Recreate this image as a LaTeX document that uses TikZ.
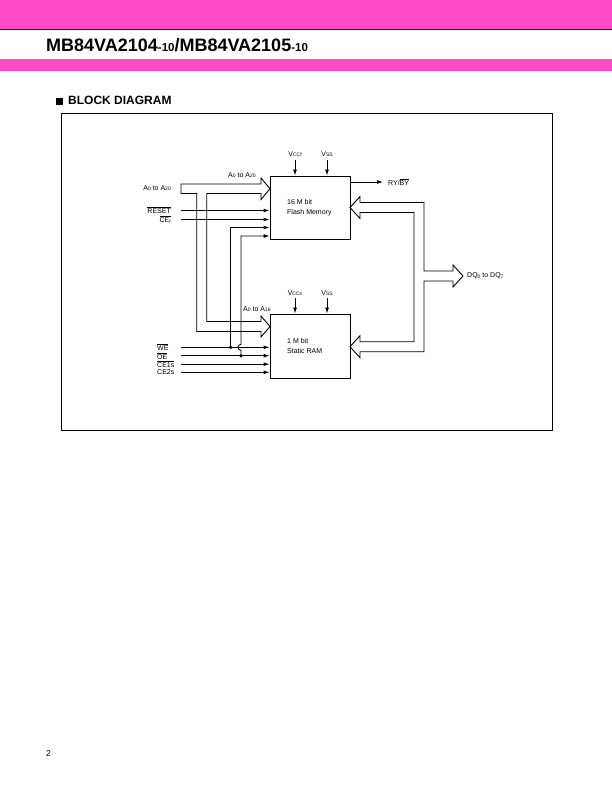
\documentclass[tikz,border=0pt]{standalone}
\usepackage{fontspec}
\setmainfont{Liberation Sans}
\usepackage{xcolor}
\usetikzlibrary{arrows.meta, positioning, calc}

\definecolor{fjpink}{RGB}{255,74,198}
\newcommand{\ovl}[1]{$\overline{\mbox{#1}}$}
\newcommand{\sbs}[1]{\raisebox{-0.6pt}{\fontsize{5}{5}\selectfont #1}}

\begin{document}
\begin{tikzpicture}[
x=1pt, y=-1pt,
every node/.style={font=\fontsize{7}{10}\selectfont, inner sep=0pt},
blk/.style={draw, rectangle, line width=0.9pt, minimum width=80pt, minimum height=63pt},
sig/.style={line width=0.9pt, -{Latex[length=6pt, width=4pt]}},
bus/.style={draw, line width=0.9pt, line join=miter},
dot/.style={circle, fill, minimum size=3.6pt},
lbl/.style={anchor=east}
]

\useasboundingbox (0,0) rectangle (612,792);

% page header
\fill[fjpink] (0,0) rectangle (612,29);
\draw[line width=0.9pt] (0,29) -- (612,29);
\fill[fjpink] (0,59) rectangle (612,70.5);
\node[anchor=base west, font=\bfseries\fontsize{18}{20}\selectfont] (title) at (46,52)
{MB84VA2104{\fontsize{11.5}{12}\selectfont -10}/MB84VA2105{\fontsize{11.5}{12}\selectfont -10}};
\node[anchor=base west, font=\bfseries\fontsize{12}{14}\selectfont] (sect) at (56,104.5)
{\rule{7pt}{7pt}\hspace{5pt}BLOCK DIAGRAM};
\draw[line width=0.8pt] (61,113) rectangle (552,430);

% memory blocks
\node[blk] (flash) at (310,207.5) {};
\node[blk, minimum height=64pt] (sram) at (310,346) {};
\node[anchor=west, align=left] (flashtxt) at (287,208) {16 M bit\\Flash Memory};
\node[anchor=west, align=left] (sramtxt) at (287,346) {1 M bit\\Static RAM};

% supplies
\node (vccf) at (295,154) {V\sbs{CCf}};
\node (vssf) at (327,154) {V\sbs{SS}};
\node (vccs) at (295,293) {V\sbs{CCs}};
\node (vsss) at (327,293) {V\sbs{SS}};
\coordinate (vccfT) at (295,160);
\coordinate (vssfT) at (327,160);
\coordinate (vccsT) at (295,298);
\coordinate (vsssT) at (327,298);
\draw[sig] (vccfT) -- (vccfT |- flash.north);
\draw[sig] (vssfT) -- (vssfT |- flash.north);
\draw[sig] (vccsT) -- (vccsT |- sram.north);
\draw[sig] (vsssT) -- (vsssT |- sram.north);

% ready/busy
\coordinate (rybyS) at (350,182);
\node[anchor=west] (ryby) at (388,182) {RY/\ovl{BY}};
\draw[sig, shorten >=5pt] (rybyS) -- (ryby.west);

% address bus
\draw[bus] (181,184) -- (261,184) -- (261,178) -- (270,188.75) -- (261,199.5) -- (261,193.5)
  -- (206.7,193.5) -- (206.7,321.5) -- (261,321.5) -- (261,316) -- (270,326.5) -- (261,337)
  -- (261,331.5) -- (196.7,331.5) -- (196.7,193.5) -- (181,193.5) -- cycle;
\node[lbl] (addrin) at (171,188) {A\sbs{0} to A\sbs{20}};
\node[anchor=west] (addrf) at (228,175) {A\sbs{0} to A\sbs{20}};
\node[anchor=west] (addrs) at (243,309) {A\sbs{0} to A\sbs{16}};

% flash control inputs
\coordinate (resetL) at (181,210.5);
\coordinate (cefL) at (181,219.5);
\draw[sig] (resetL) -- (resetL -| flash.west);
\draw[sig] (cefL) -- (cefL -| flash.west);
\node[left=10pt of resetL] (reset) {\ovl{RESET}};
\node[left=10pt of cefL] (cef) {\ovl{CE\sbs{f}}};

% sram control inputs
\coordinate (weL) at (181,347.3);
\coordinate (oeL) at (181,355.7);
\coordinate (ceoneL) at (181,364.2);
\coordinate (cetwoL) at (181,372.3);
\draw[sig] (weL) -- (weL -| sram.west);
\draw[sig] (oeL) -- (oeL -| sram.west);
\draw[sig] (ceoneL) -- (ceoneL -| sram.west);
\draw[sig] (cetwoL) -- (cetwoL -| sram.west);
\node[anchor=west] (we) at (157,347.3) {\ovl{WE}};
\node[anchor=west] (oe) at (157,355.7) {\ovl{OE}};
\node[anchor=west] (ceone) at (157,364.2) {\ovl{CE1s}};
\node[anchor=west] (cetwo) at (157,372.3) {CE2s};

% shared WE / OE into flash
\coordinate (weF) at (230.7,227.5);
\coordinate (oeF) at (241,236);
\node[dot] (weJ) at (230.7,347.3) {};
\node[dot] (oeJ) at (241,355.7) {};
\draw[sig] (weJ.center) -- (weF) -- (weF -| flash.west);
\draw[sig] (oeJ.center) -- (241,350.3) arc[start angle=90, end angle=270, radius=3] -- (oeF) -- (oeF -| flash.west);

% data bus
\draw[bus] (350,207.5) -- (360,196.5) -- (360,202.5) -- (424,202.5) -- (424,271) -- (453,271)
  -- (453,265) -- (463,276) -- (453,287) -- (453,281) -- (424,281) -- (424,351.7) -- (360,351.7)
  -- (360,357.7) -- (350,346.7) -- (360,335.7) -- (360,341.7) -- (414,341.7) -- (414,212.5)
  -- (360,212.5) -- (360,218.5) -- cycle;
\node[anchor=west] (dq) at (467,276) {DQ\sbs{0} to DQ\sbs{7}};

\node[anchor=west, font=\fontsize{8.5}{10}\selectfont] (pgno) at (46,754) {2};

\end{tikzpicture}
\end{document}
